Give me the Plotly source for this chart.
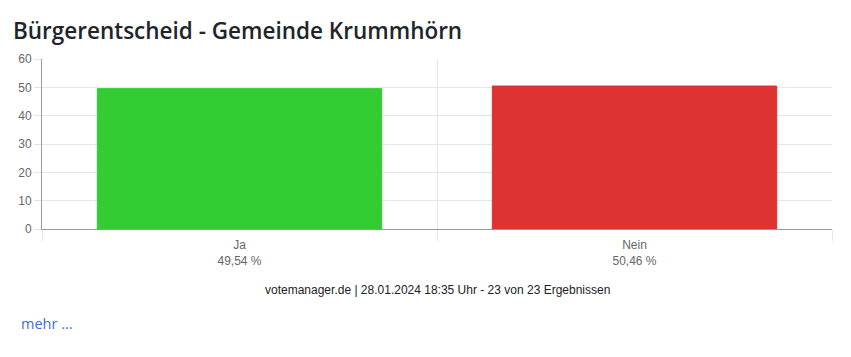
import plotly.graph_objects as go

categories = ["Ja", "Nein"]
values = [49.54, 50.46]
percent_labels = ["49,54 %", "50,46 %"]
bar_colors = ["#33cc33", "#dd3333"]
y_ticks = [0, 10, 20, 30, 40, 50, 60]

# page body has an 8px margin
OFF = 8
W, H = 851 - 2 * OFF, 357 - 2 * OFF
L, T = 42 - OFF, 59 - OFF
R = W + OFF - 832
plot_h = 170
B = H - T - plot_h
plot_w = W - L - R

fig = go.Figure()
fig.add_trace(go.Bar(
    x=categories, y=values, width=0.72,
    marker=dict(color=bar_colors, line=dict(color=bar_colors, width=1)),
    hoverinfo="skip", showlegend=False,
))
# helper trace for the boundary grid axis
fig.add_trace(go.Scatter(x=[-0.5, 1.5], y=[0, 0], xaxis="x2", mode="lines",
                         line=dict(width=0), hoverinfo="skip", showlegend=False))

fig.update_layout(
    width=W, height=H,
    margin=dict(l=L, r=R, t=T, b=B),
    paper_bgcolor="white", plot_bgcolor="white",
    font=dict(family="Liberation Sans, Arial, sans-serif", size=12, color="#666666"),
    title=dict(text="Bürgerentscheid - Gemeinde Krummhörn",
               x=(13 - OFF) / W, xref="container", xanchor="left",
               y=1 - (31 - OFF) / H, yref="container", yanchor="middle",
               font=dict(family="Open Sans, sans-serif", size=22.5, color="#212529", weight=600)),
    xaxis=dict(
        type="category", range=[-0.5, 1.5],
        tickvals=categories,
        ticktext=[f"{c}<br>{p}" for c, p in zip(categories, percent_labels)],
        showgrid=False, ticks="", showline=True, linecolor="#9a9a9a", linewidth=1,
        tickfont=dict(size=12, color="#666666"), zeroline=False,
        ticklabelstandoff=5,
    ),
    xaxis2=dict(
        overlaying="x", anchor="y", range=[-0.5, 1.5],
        tickvals=[-0.5, 0.5, 1.5], showticklabels=False,
        showgrid=True, gridcolor="#e6e6e6", gridwidth=1,
        ticks="outside", ticklen=11, tickcolor="#e6e6e6",
        showline=False, zeroline=False,
    ),
    yaxis=dict(
        range=[0, 60], tickvals=y_ticks,
        showgrid=True, gridcolor="#e6e6e6", gridwidth=1,
        ticks="outside", ticklen=7, tickcolor="#e6e6e6",
        showline=True, linecolor="#9a9a9a", linewidth=1, zeroline=False,
        tickfont=dict(size=12, color="#666666"),
    ),
)

fig.add_annotation(
    text="votemanager.de | 28.01.2024 18:35 Uhr - 23 von 23 Ergebnissen",
    xref="paper", yref="paper", x=0.5, y=(229 - 290) / plot_h,
    xanchor="center", yanchor="middle", showarrow=False,
    font=dict(family="Liberation Sans, Arial, sans-serif", size=12, color="#222222"),
)
fig.add_annotation(
    text="mehr ...",
    xref="paper", yref="paper", x=(19 - 42) / plot_w, y=(229 - 323) / plot_h,
    xanchor="left", yanchor="middle", showarrow=False,
    font=dict(family="Open Sans, sans-serif", size=14.5, color="#3b6fe0"),
)

fig.write_html("out.html")
